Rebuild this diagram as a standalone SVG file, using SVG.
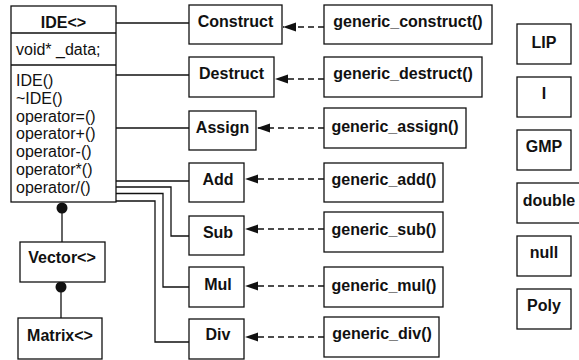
<svg xmlns="http://www.w3.org/2000/svg" width="579" height="360" viewBox="0 0 579 360">
<defs>
<style>
.box{fill:#fff;stroke:#111;stroke-width:1.3}
.ln{fill:none;stroke:#111;stroke-width:1.3}
.dash{fill:none;stroke:#111;stroke-width:1.3;stroke-dasharray:6,4}
.b{font-family:"Liberation Sans",Arial,Helvetica,sans-serif;font-size:16px;font-weight:bold;fill:#111;text-anchor:middle}
.r{font-family:"Liberation Sans",Arial,Helvetica,sans-serif;font-size:16px;fill:#111}
.dot{fill:#111}
</style>
<marker id="ah" markerWidth="14" markerHeight="10" refX="13" refY="4.5" orient="auto" markerUnits="userSpaceOnUse">
<path d="M0,0 L13,4.5 L0,9 Z" fill="#111"/>
</marker>
</defs>
<rect width="579" height="360" fill="#fff"/>

<g id="connectors">
<path class="ln" d="M116,23 H189"/>
<path class="ln" d="M116,75 H189"/>
<path class="ln" d="M116,128 H189"/>
<path class="ln" d="M116,181 H189"/>
<path class="ln" d="M116,187 H171 V236 H189"/>
<path class="ln" d="M116,193.5 H163 V287 H189"/>
<path class="ln" d="M116,201 H155 V342 H189"/>
<path class="ln" d="M62,208 V242"/>
<path class="ln" d="M61,287 V318"/>
<circle class="dot" cx="62" cy="208" r="5.5"/>
<circle class="dot" cx="61" cy="287" r="5.5"/>
<path class="dash" d="M324,27 H283" marker-end="url(#ah)"/>
<path class="dash" d="M324,79 H275" marker-end="url(#ah)"/>
<path class="dash" d="M324,128 H257" marker-end="url(#ah)"/>
<path class="dash" d="M324,179 H245" marker-end="url(#ah)"/>
<path class="dash" d="M324,229 H245" marker-end="url(#ah)"/>
<path class="dash" d="M324,286 H245" marker-end="url(#ah)"/>
<path class="dash" d="M324,337 H245" marker-end="url(#ah)"/>
</g>

<g id="IDE">
<rect class="box" x="11" y="6" width="105" height="196"/>
<path class="ln" d="M11,33 H116 M11,65 H116"/>
<text class="b" x="63.5" y="28">IDE&lt;&gt;</text>
<text class="r" x="16" y="55">void* _data;</text>
<text class="r" x="16" y="86">IDE()</text>
<text class="r" x="16" y="103.8">~IDE()</text>
<text class="r" x="16" y="121.6">operator=()</text>
<text class="r" x="16" y="139.4">operator+()</text>
<text class="r" x="16" y="157.2">operator-()</text>
<text class="r" x="16" y="175">operator*()</text>
<text class="r" x="16" y="192.8">operator/()</text>
</g>

<g id="Vector"><rect class="box" x="20" y="242" width="85" height="40"/><text class="b" x="62" y="263">Vector&lt;&gt;</text></g>
<g id="Matrix"><rect class="box" x="18" y="318" width="84" height="41"/><text class="b" x="60" y="341">Matrix&lt;&gt;</text></g>

<g id="Construct"><rect class="box" x="189" y="5" width="93" height="39"/><text class="b" x="235.5" y="27">Construct</text></g>
<g id="Destruct"><rect class="box" x="189" y="57" width="85" height="40"/><text class="b" x="231.5" y="79">Destruct</text></g>
<g id="Assign"><rect class="box" x="189" y="111" width="67" height="39"/><text class="b" x="222.5" y="133">Assign</text></g>
<g id="Add"><rect class="box" x="189" y="163" width="55" height="39"/><text class="b" x="218" y="185">Add</text></g>
<g id="Sub"><rect class="box" x="189" y="216" width="55" height="39"/><text class="b" x="218" y="238">Sub</text></g>
<g id="Mul"><rect class="box" x="189" y="267" width="55" height="40"/><text class="b" x="218" y="290">Mul</text></g>
<g id="Div"><rect class="box" x="189" y="319" width="55" height="40"/><text class="b" x="218" y="340">Div</text></g>

<g id="generic_construct"><rect class="box" x="324" y="5" width="168" height="39"/><text class="b" x="408" y="27">generic_construct()</text></g>
<g id="generic_destruct"><rect class="box" x="324" y="57" width="158" height="40"/><text class="b" x="403" y="79">generic_destruct()</text></g>
<g id="generic_assign"><rect class="box" x="324" y="108" width="142" height="40"/><text class="b" x="395" y="132">generic_assign()</text></g>
<g id="generic_add"><rect class="box" x="324" y="163" width="119" height="39"/><text class="b" x="384" y="185">generic_add()</text></g>
<g id="generic_sub"><rect class="box" x="324" y="212" width="119" height="40"/><text class="b" x="384" y="235">generic_sub()</text></g>
<g id="generic_mul"><rect class="box" x="324" y="267" width="119" height="40"/><text class="b" x="384" y="291">generic_mul()</text></g>
<g id="generic_div"><rect class="box" x="324" y="317" width="115" height="40"/><text class="b" x="382" y="339">generic_div()</text></g>

<g id="LIP"><rect class="box" x="517" y="24" width="54" height="40"/><text class="b" x="544" y="47.5">LIP</text></g>
<g id="I"><rect class="box" x="517" y="77" width="54" height="40"/><text class="b" x="544" y="98.5">I</text></g>
<g id="GMP"><rect class="box" x="517" y="130" width="54" height="40"/><text class="b" x="544" y="152">GMP</text></g>
<g id="double"><rect class="box" x="517" y="183" width="70" height="40"/><text class="b" x="549" y="205.5">double</text></g>
<g id="null"><rect class="box" x="517" y="236" width="54" height="40"/><text class="b" x="544" y="258">null</text></g>
<g id="Poly"><rect class="box" x="517" y="289" width="54" height="40"/><text class="b" x="544" y="311">Poly</text></g>
</svg>
